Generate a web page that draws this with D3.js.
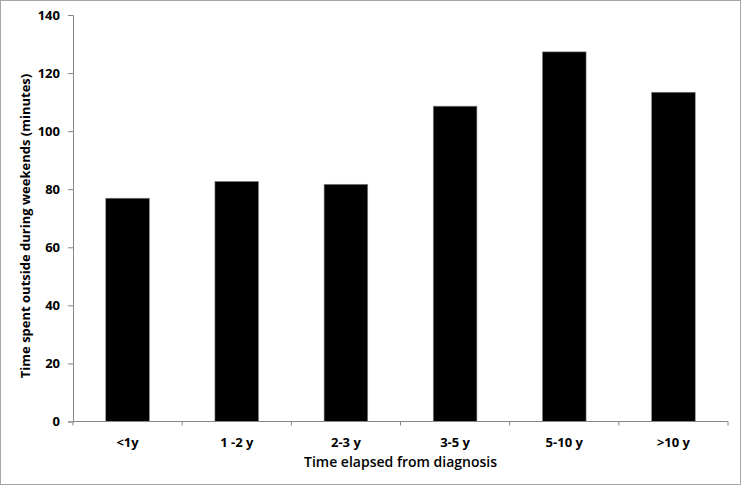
<!DOCTYPE html>
<html><head><meta charset="utf-8">
<script src="https://cdn.jsdelivr.net/npm/d3@7"></script>
<style>body{margin:0;background:#fff}svg{display:block}</style>
</head><body>
<script>
const categories = ["<1y", "1 -2 y", "2-3 y", "3-5 y", "5-10 y", ">10 y"];
const values = [76.9, 82.7, 81.7, 108.6, 127.3, 113.4];
const yTicks = [0, 20, 40, 60, 80, 100, 120, 140];
const xTitle = "Time elapsed from diagnosis";
const yTitle = "Time spent outside during weekends (minutes)";

const W = 741, H = 485;
const m = {left: 73, right: 13, top: 15, bottom: 63.5};
const svg = d3.select("body").append("svg").attr("width", W).attr("height", H);
svg.append("rect").attr("x", 0.5).attr("y", 0.5).attr("width", W - 1).attr("height", H - 1)
  .attr("fill", "#fff").attr("stroke", "#a6a6a6");

const x = d3.scaleBand().domain(categories).range([m.left, W - m.right]).paddingInner(0.6).paddingOuter(0.3);
const y = d3.scaleLinear().domain([0, 140]).range([H - m.bottom, m.top]);
const font = "'Open Sans', sans-serif";

svg.selectAll("rect.bar").data(values).join("rect").attr("class", "bar")
  .attr("x", (d, i) => x(categories[i])).attr("width", x.bandwidth())
  .attr("y", d => y(d)).attr("height", d => y(0) - y(d))
  .attr("fill", "#000").attr("stroke", "#8c8c8c").attr("stroke-width", 0.6);

const yAxis = svg.append("g").attr("transform", `translate(${m.left},0)`)
  .call(d3.axisLeft(y).tickValues(yTicks).tickSize(5).tickPadding(8));
yAxis.selectAll("path,line").attr("stroke", "#868686");
yAxis.selectAll("text").attr("font-family", font).attr("font-weight", "bold").attr("font-size", 13).attr("fill", "#000");

// x axis with ticks at category boundaries
const xg = svg.append("g").attr("transform", `translate(0,${y(0)})`);
const x0 = m.left, x1 = W - m.right;
xg.append("line").attr("x1", x0).attr("x2", x1).attr("stroke", "#868686");
const bounds = d3.range(categories.length + 1).map(i => x0 + i * (x1 - x0) / categories.length);
xg.selectAll("line.tk").data(bounds).join("line").attr("class", "tk")
  .attr("x1", d => d).attr("x2", d => d).attr("y1", 0).attr("y2", 4).attr("stroke", "#868686");
xg.selectAll("text").data(categories).join("text")
  .attr("x", d => x(d) + x.bandwidth() / 2).attr("y", 25)
  .attr("text-anchor", "middle").attr("font-family", font).attr("font-weight", "bold").attr("font-size", 13)
  .text(d => d);

svg.append("text").attr("x", (x0 + x1) / 2).attr("y", 467).attr("text-anchor", "middle")
  .attr("font-family", font).attr("font-weight", "600").attr("font-size", 14).text(xTitle);
svg.append("text").attr("transform", `translate(30,226) rotate(-90)`)
  .attr("text-anchor", "middle").attr("font-family", font).attr("font-weight", "bold").attr("font-size", 13).text(yTitle);
</script>
</body></html>
